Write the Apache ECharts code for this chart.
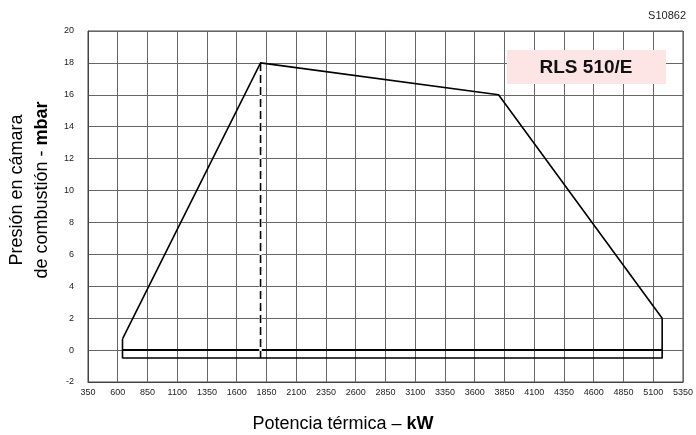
<!DOCTYPE html>
<html>
<head>
<meta charset="utf-8">
<script src="https://cdn.jsdelivr.net/npm/echarts@6/dist/echarts.min.js"></script>
<style>html,body{margin:0;padding:0;background:#fff}#c{width:696px;height:435px}</style>
</head>
<body>
<div id="c"></div>
<script>
// Working envelope (kW, mbar)
const envelopeX = [640, 1800, 3800, 5175, 5175, 640, 640];
const envelopeY = [0.7, 18, 16, 2, -0.5, -0.5, 0.7];
// Zero-pressure line across the envelope
const zeroLineX = [640, 5175];
const zeroLineY = [0, 0];
// Dashed vertical marker at peak
const dashX = [1800, 1800];
const dashY = [18, -0.5];
// Axis ranges
const xRange = [350, 5350, 250];
const yRange = [-2, 20, 2];
const modelName = 'RLS 510/E';
const drawingCode = 'S10862';

const FONT = '"Liberation Sans", Arial, sans-serif';
const pair = (xs, ys) => xs.map((x, i) => [x, ys[i]]);

const chart = echarts.init(document.getElementById('c'), null, {renderer: 'canvas'});
chart.setOption({
  animation: false,
  grid: {left: 88, right: 10, top: 31, bottom: 53, show: true, borderColor: '#444', borderWidth: 1},
  xAxis: {
    type: 'value', min: xRange[0], max: xRange[1], interval: xRange[2],
    axisLine: {show: true, onZero: false, lineStyle: {color: '#444', width: 1}},
    axisTick: {show: false},
    axisLabel: {fontSize: 9, color: '#222', fontFamily: FONT, margin: 6, formatter: v => String(v)},
    splitLine: {show: true, lineStyle: {color: '#666', width: 1}}
  },
  yAxis: {
    type: 'value', min: yRange[0], max: yRange[1], interval: yRange[2],
    axisLine: {show: true, lineStyle: {color: '#444', width: 1}},
    axisTick: {show: false},
    axisLabel: {fontSize: 9, color: '#222', fontFamily: FONT, margin: 14, formatter: v => String(v)},
    splitLine: {show: true, lineStyle: {color: '#666', width: 1}}
  },
  series: [
    {type: 'line', data: pair(zeroLineX, zeroLineY), symbol: 'none', lineStyle: {color: '#000', width: 2}, z: 3},
    {type: 'line', data: pair(dashX, dashY), symbol: 'none', lineStyle: {color: '#fff', width: 2.5}, z: 4},
    {type: 'line', data: pair(dashX, dashY), symbol: 'none', lineStyle: {color: '#000', width: 1.6, type: [8, 4]}, z: 5},
    {type: 'line', data: pair(envelopeX, envelopeY), symbol: 'none', lineStyle: {color: '#000', width: 1.6}, z: 6}
  ],
  graphic: [
    {type: 'text', style: {text: drawingCode, fontSize: 11, fontFamily: FONT, fill: '#222', x: 686, y: 16, align: 'right', verticalAlign: 'middle'}},
    {type: 'rect', shape: {x: 507, y: 50, width: 159, height: 34}, style: {fill: '#fde4e5'}, z: 10},
    {type: 'text', style: {text: modelName, x: 586, y: 67.5, align: 'center', verticalAlign: 'middle', fontSize: 19, fontWeight: 'bold', fontFamily: FONT, fill: '#111'}, z: 11},
    {type: 'text', x: 17, y: 190, rotation: Math.PI / 2, style: {text: 'Presión en cámara', x: 0, y: 0, align: 'center', verticalAlign: 'middle', fontSize: 18, fontFamily: FONT, fill: '#000'}},
    {type: 'text', x: 42, y: 190, rotation: Math.PI / 2, style: {text: '{n|de combustión - }{b|mbar}', x: 0, y: 0, align: 'center', verticalAlign: 'middle', fontFamily: FONT,
      rich: {n: {fontSize: 18, fontFamily: FONT, fill: '#000'}, b: {fontSize: 18, fontWeight: 'bold', fontFamily: FONT, fill: '#000'}}}},
    {type: 'text', x: 343, y: 424, style: {text: '{n|Potencia térmica – }{b|kW}', x: 0, y: 0, align: 'center', verticalAlign: 'middle', fontFamily: FONT,
      rich: {n: {fontSize: 18, fontFamily: FONT, fill: '#000'}, b: {fontSize: 18, fontWeight: 'bold', fontFamily: FONT, fill: '#000'}}}}
  ]
});
</script>
</body>
</html>
